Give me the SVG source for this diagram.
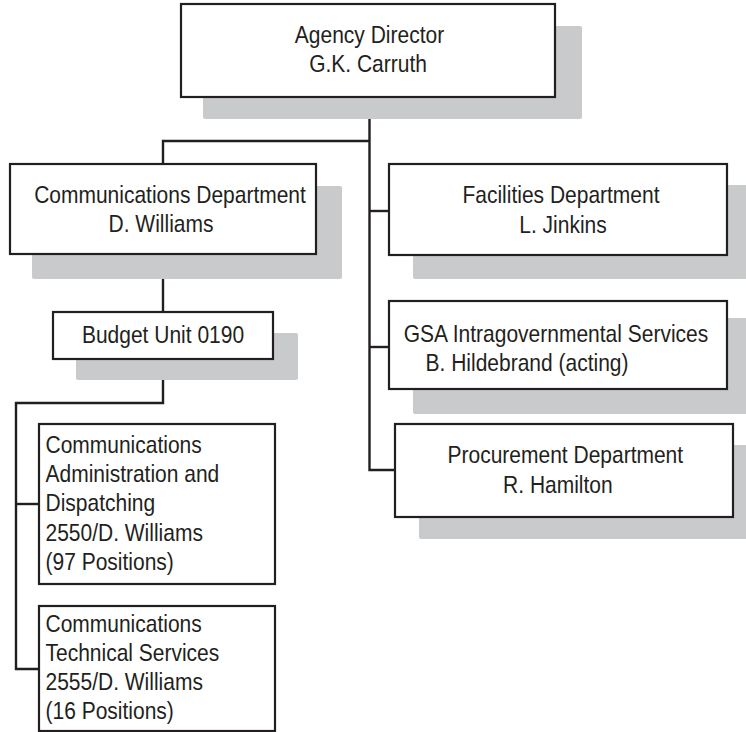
<svg xmlns="http://www.w3.org/2000/svg" width="746" height="732" viewBox="0 0 746 732">
  <style>
    .shadow { fill: #c9cacc; }
    .box { fill: #ffffff; stroke: #231f20; stroke-width: 2.2; }
    .lbl { font-family: "Liberation Sans", Arial, sans-serif; font-size: 24px; fill: #231f20; }
    .mid { text-anchor: middle; }
    .wire { fill: none; stroke: #231f20; stroke-width: 2.4; stroke-linejoin: miter; }
  </style>
  <rect width="746" height="732" fill="#ffffff"/>

  <!-- connectors -->
  <g id="connectors">
    <polyline class="wire" points="369.5,97 369.5,470 395,470"/>
    <polyline class="wire" points="369.5,141 163,141 163,164"/>
    <line class="wire" x1="369.5" y1="211" x2="389" y2="211"/>
    <line class="wire" x1="369.5" y1="347" x2="389" y2="347"/>
    <line class="wire" x1="163" y1="254" x2="163" y2="312"/>
    <polyline class="wire" points="163,359 163,403 16,403 16,669 39,669"/>
    <line class="wire" x1="16" y1="504" x2="39" y2="504"/>
  </g>

  <!-- top: agency director -->
  <g id="director">
    <rect class="shadow" x="203" y="26" width="379" height="93" rx="2"/>
    <rect class="box" x="181" y="4" width="374" height="93"/>
    <g transform="translate(369.5 0) scale(0.875 1)">
      <text class="lbl mid" x="0" y="43">Agency Director</text>
      <text class="lbl mid" x="-1.7" y="72.5">G.K. Carruth</text>
    </g>
  </g>

  <!-- communications department -->
  <g id="communications">
    <rect class="shadow" x="32" y="186" width="310" height="93" rx="2"/>
    <rect class="box" x="10" y="164" width="306" height="90"/>
    <g transform="translate(163 0) scale(0.875 1)">
      <text class="lbl mid" x="8" y="203.3">Communications Department</text>
      <text class="lbl mid" x="-2.3" y="232.3">D. Williams</text>
    </g>
  </g>

  <!-- facilities department -->
  <g id="facilities">
    <rect class="shadow" x="413" y="185" width="340" height="94" rx="2"/>
    <rect class="box" x="389" y="164" width="338" height="91"/>
    <g transform="translate(558 0) scale(0.875 1)">
      <text class="lbl mid" x="3.4" y="203.3">Facilities Department</text>
      <text class="lbl mid" x="5.7" y="233">L. Jinkins</text>
    </g>
  </g>

  <!-- GSA intragovernmental services -->
  <g id="gsa">
    <rect class="shadow" x="413" y="318" width="340" height="96" rx="2"/>
    <rect class="box" x="389" y="301" width="338" height="88"/>
    <g transform="translate(558 0) scale(0.875 1)">
      <text class="lbl mid" x="-2.3" y="342.5">GSA Intragovernmental Services</text>
      <text class="lbl mid" x="-35.4" y="371.5">B. Hildebrand (acting)</text>
    </g>
  </g>

  <!-- procurement department -->
  <g id="procurement">
    <rect class="shadow" x="419" y="445" width="334" height="94" rx="2"/>
    <rect class="box" x="395" y="424" width="338" height="93"/>
    <g transform="translate(564 0) scale(0.875 1)">
      <text class="lbl mid" x="1.5" y="463">Procurement Department</text>
      <text class="lbl mid" x="-7" y="493.5">R. Hamilton</text>
    </g>
  </g>

  <!-- budget unit -->
  <g id="budget">
    <rect class="shadow" x="76" y="333" width="222" height="47" rx="2"/>
    <rect class="box" x="53" y="312" width="220" height="47"/>
    <g transform="translate(163 0) scale(0.875 1)">
      <text class="lbl mid" x="0" y="342.7">Budget Unit 0190</text>
    </g>
  </g>

  <!-- 2550 administration and dispatching -->
  <g id="admin-dispatch">
    <rect class="box" x="39" y="424" width="236" height="160"/>
    <g transform="translate(45.5 0) scale(0.875 1)">
      <text class="lbl" x="0" y="452.7">Communications</text>
      <text class="lbl" x="0" y="482.1">Administration and</text>
      <text class="lbl" x="0" y="511.5">Dispatching</text>
      <text class="lbl" x="0" y="540.9">2550/D. Williams</text>
      <text class="lbl" x="0" y="570.3">(97 Positions)</text>
    </g>
  </g>

  <!-- 2555 technical services -->
  <g id="technical">
    <rect class="box" x="39" y="606" width="236" height="125"/>
    <g transform="translate(45.5 0) scale(0.875 1)">
      <text class="lbl" x="0" y="631.7">Communications</text>
      <text class="lbl" x="0" y="660.9">Technical Services</text>
      <text class="lbl" x="0" y="690.1">2555/D. Williams</text>
      <text class="lbl" x="0" y="719.3">(16 Positions)</text>
    </g>
  </g>
</svg>
